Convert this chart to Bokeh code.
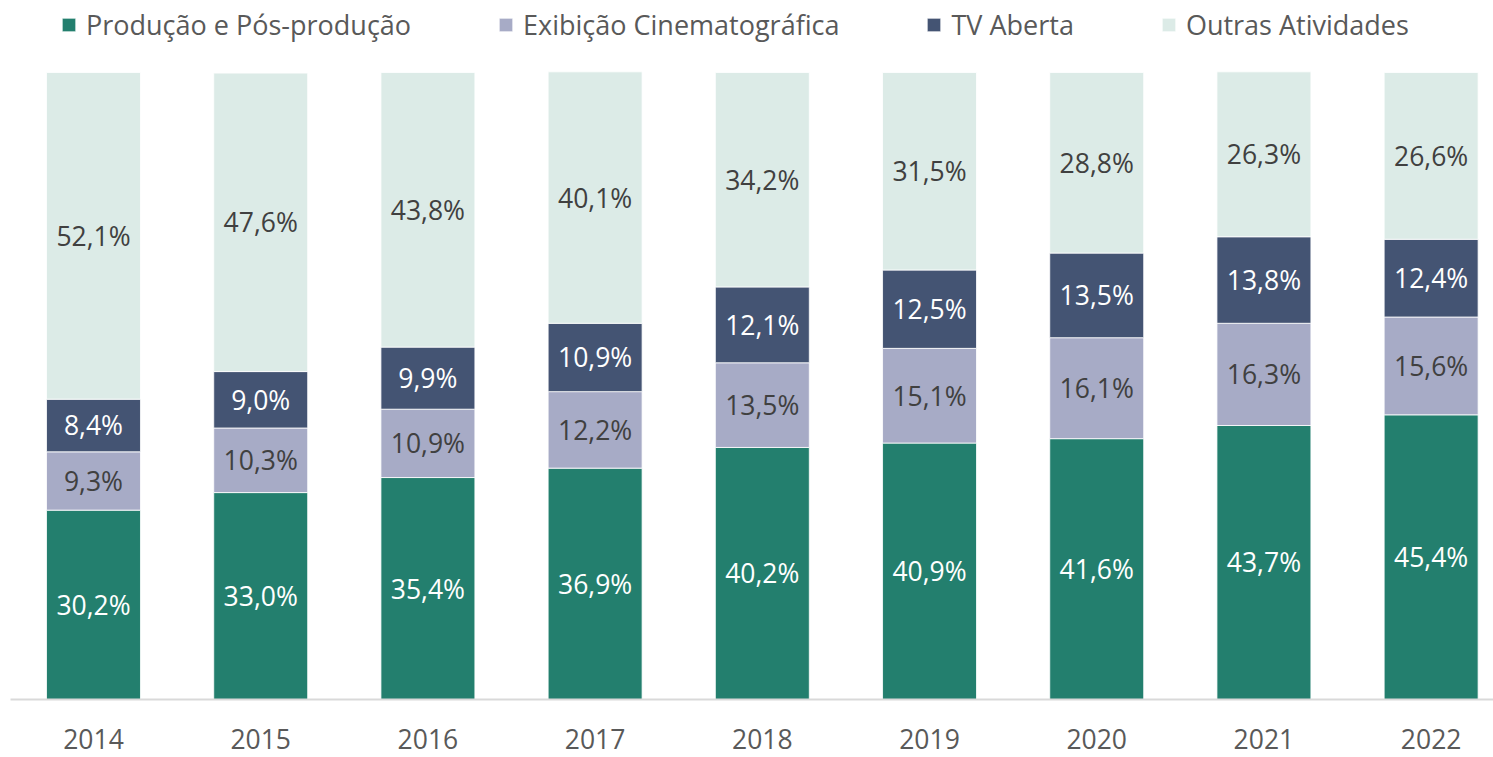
from bokeh.plotting import figure
from bokeh.models import ColumnDataSource, Range1d, FixedTicker, Legend, LegendItem, LabelSet
from bokeh.core.properties import value
from bokeh.embed import file_html
from bokeh.resources import INLINE

years = ["2014", "2015", "2016", "2017", "2018", "2019", "2020", "2021", "2022"]
producao = [30.2, 33.0, 35.4, 36.9, 40.2, 40.9, 41.6, 43.7, 45.4]
exibicao = [9.3, 10.3, 10.9, 12.2, 13.5, 15.1, 16.1, 16.3, 15.6]
tv_aberta = [8.4, 9.0, 9.9, 10.9, 12.1, 12.5, 13.5, 13.8, 12.4]
outras = [52.1, 47.6, 43.8, 40.1, 34.2, 31.5, 28.8, 26.3, 26.6]

series = ["producao", "exibicao", "tv", "outras"]
names = ["Produção e Pós-produção", "Exibição Cinematográfica", "TV Aberta", "Outras Atividades"]
colors = ["#237F6E", "#A7ABC6", "#445473", "#DCEBE7"]
label_colors = ["white", "#404040", "white", "#404040"]

FONT = "Open Sans"

xs = list(range(len(years)))
data = dict(x=xs, producao=producao, exibicao=exibicao, tv=tv_aberta, outras=outras)
src = ColumnDataSource(data)

p = figure(width=1493, height=757, output_backend="svg", toolbar_location=None,
           x_range=Range1d(-0.4964, 8.373), y_range=Range1d(0, 111.48),
           min_border_left=10, min_border_right=0, min_border_top=0, min_border_bottom=58)
p.outline_line_color = None
p.grid.grid_line_color = None
p.yaxis.visible = False

renderers = p.vbar_stack(series, x="x", width=0.562, color=colors, source=src,
                         line_color="white", line_width=0.8)

# labels
vals = [producao, exibicao, tv_aberta, outras]
base = [0.0] * len(years)
for i, v in enumerate(vals):
    centers = [b + vv / 2 for b, vv in zip(base, v)]
    texts = [f"{vv:.1f}".replace(".", ",") + "%" for vv in v]
    lsrc = ColumnDataSource(dict(x=xs, y=centers, t=texts))
    p.add_layout(LabelSet(x="x", y="y", text="t", source=lsrc, text_align="center",
                          text_baseline="middle", text_color=label_colors[i],
                          text_font=value(FONT), text_font_size="26.5px"))
    base = [b + vv for b, vv in zip(base, v)]

ax = p.xaxis[0]
ax.ticker = FixedTicker(ticks=xs)
ax.major_label_overrides = {i: y for i, y in enumerate(years)}
ax.major_tick_line_color = None
ax.minor_tick_line_color = None
ax.axis_line_color = "#D9D9D9"
ax.axis_line_width = 2
ax.major_label_text_font = FONT
ax.major_label_text_font_size = "26.5px"
ax.major_label_text_color = "#595959"
ax.major_label_standoff = 23

legend = Legend(items=[LegendItem(label=n, renderers=[r]) for n, r in zip(names, renderers)],
                orientation="horizontal", location=(50, 656), padding=0, margin=0,
                border_line_alpha=0, background_fill_alpha=0,
                glyph_width=17, glyph_height=17, label_standoff=9, spacing=86,
                label_text_font=FONT, label_text_font_size="27px", label_text_color="#595959")
p.add_layout(legend)

open("out.html", "w").write(file_html(p, INLINE))
